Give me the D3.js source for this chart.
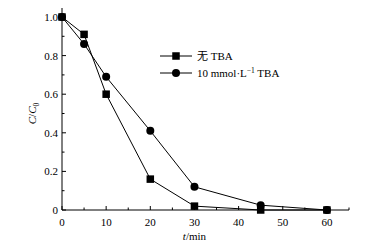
<!DOCTYPE html>
<html>
<head>
<meta charset="utf-8">
<script src="https://cdn.jsdelivr.net/npm/d3@7"></script>
<style>
  body { margin: 0; background: #fff; }
  text { font-family: "Liberation Serif", "Times New Roman", serif; fill: #000; }
</style>
</head>
<body>
<div id="chart"></div>
<script>
// data
const times = [0, 5, 10, 20, 30, 45, 60];
const noTBA = [1.0, 0.91, 0.60, 0.16, 0.02, 0.0, 0.0];
const withTBA = [1.0, 0.86, 0.69, 0.41, 0.12, 0.025, 0.0];
const seriesNames = ["无 TBA", "10 mmol·L⁻¹ TBA"];
const xTicks = [0, 10, 20, 30, 40, 50, 60];
const yTicks = [0, 0.2, 0.4, 0.6, 0.8, 1.0];

const W = 374, H = 251;
const margin = {left: 62, top: 8, right: 25, bottom: 41};
const fs = "11px";

const svg = d3.select("#chart").append("svg")
  .attr("width", W).attr("height", H);

const x = d3.scaleLinear().domain([0, 65]).range([margin.left, W - margin.right]);
const y = d3.scaleLinear().domain([0, 1.0]).range([H - margin.bottom, 17]);

// axes lines
svg.append("line").attr("x1", x(0)).attr("x2", x(65)).attr("y1", y(0)).attr("y2", y(0))
  .attr("stroke", "#000").attr("stroke-width", 1);
svg.append("line").attr("x1", x(0)).attr("x2", x(0)).attr("y1", y(0)).attr("y2", margin.top)
  .attr("stroke", "#000").attr("stroke-width", 1);

// x ticks (inward)
d3.range(0, 66, 5).forEach(function(t) {
  const major = t % 10 === 0;
  svg.append("line").attr("x1", x(t)).attr("x2", x(t))
    .attr("y1", y(0)).attr("y2", y(0) - (major ? 4 : 2.5))
    .attr("stroke", "#000");
});
svg.selectAll("text.xt").data(xTicks).enter().append("text")
  .attr("class", "xt")
  .attr("x", function(d) { return x(d); })
  .attr("y", y(0) + 16)
  .attr("text-anchor", "middle")
  .style("font-size", fs)
  .text(function(d) { return d; });

// y ticks (inward)
d3.range(0, 11).forEach(function(i) {
  const v = i / 10;
  const major = i % 2 === 0;
  svg.append("line").attr("x1", x(0)).attr("x2", x(0) + (major ? 4 : 2.5))
    .attr("y1", y(v)).attr("y2", y(v)).attr("stroke", "#000");
});
svg.selectAll("text.yt").data(yTicks).enter().append("text")
  .attr("class", "yt")
  .attr("x", x(0) - 4)
  .attr("y", function(d) { return y(d) + 4; })
  .attr("text-anchor", "end")
  .style("font-size", fs)
  .text(function(d) { return d === 0 ? "0" : d.toFixed(1); });

// axis titles
const yt = svg.append("text")
  .attr("transform", "translate(36," + y(0.5) + ") rotate(-90)")
  .attr("text-anchor", "middle")
  .style("font-size", fs);
yt.append("tspan").style("font-style", "italic").text("C");
yt.append("tspan").text("/");
yt.append("tspan").style("font-style", "italic").text("C");
yt.append("tspan").attr("dy", 3).style("font-size", "7.5px").text("0");

const xt = svg.append("text")
  .attr("x", x(30)).attr("y", H - 11)
  .attr("text-anchor", "middle")
  .style("font-size", fs);
xt.append("tspan").style("font-style", "italic").text("t");
xt.append("tspan").text("/min");

// lines
const line = d3.line()
  .x(function(d, i) { return x(times[i]); })
  .y(function(d) { return y(d); });

svg.append("path").datum(noTBA).attr("d", line)
  .attr("fill", "none").attr("stroke", "#000").attr("stroke-width", 1);
svg.append("path").datum(withTBA).attr("d", line)
  .attr("fill", "none").attr("stroke", "#000").attr("stroke-width", 1);

svg.selectAll("rect.sq").data(noTBA).enter().append("rect")
  .attr("class", "sq")
  .attr("x", function(d, i) { return x(times[i]) - 3.75; })
  .attr("y", function(d) { return y(d) - 3.75; })
  .attr("width", 7.5).attr("height", 7.5).attr("fill", "#000");

svg.selectAll("circle.ci").data(withTBA).enter().append("circle")
  .attr("class", "ci")
  .attr("cx", function(d, i) { return x(times[i]); })
  .attr("cy", function(d) { return y(d); })
  .attr("r", 4).attr("fill", "#000");

// legend
const lg = svg.append("g").attr("transform", "translate(160,56)");
seriesNames.forEach(function(name, i) {
  const g = lg.append("g").attr("transform", "translate(0," + (i * 17) + ")");
  g.append("line").attr("x1", 0).attr("x2", 32).attr("y1", 0).attr("y2", 0)
    .attr("stroke", "#000");
  if (i === 0) {
    g.append("rect").attr("x", 16 - 3.75).attr("y", -3.75).attr("width", 7.5).attr("height", 7.5).attr("fill", "#000");
  } else {
    g.append("circle").attr("cx", 16).attr("cy", 0).attr("r", 4).attr("fill", "#000");
  }
  const t = g.append("text").attr("x", 37).attr("y", 4).style("font-size", fs);
  if (i === 0) {
    t.append("tspan").style("font-family", "'Noto Sans CJK SC', sans-serif").text("无");
    t.append("tspan").text(" TBA");
  } else {
    t.append("tspan").text("10 mmol·L");
    t.append("tspan").attr("dy", -4).style("font-size", "7.5px").text("−1");
    t.append("tspan").attr("dy", 4).text(" TBA");
  }
});
</script>
</body>
</html>
